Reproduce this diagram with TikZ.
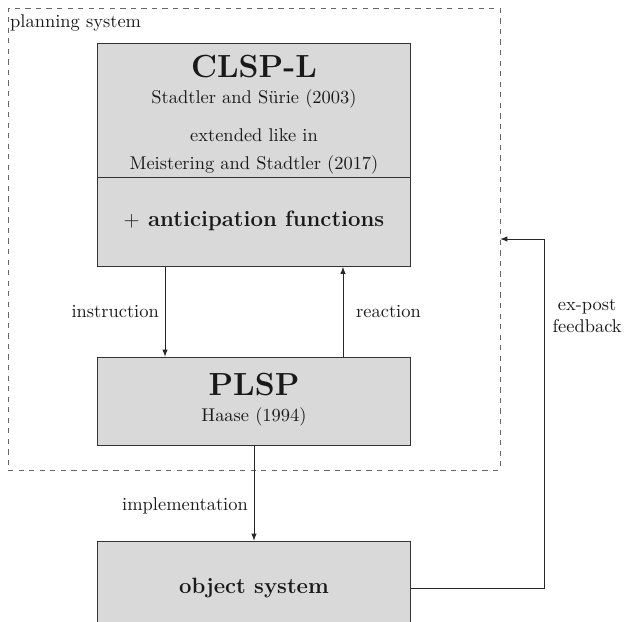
\documentclass[tikz,border=0pt]{standalone}
\usetikzlibrary{arrows, positioning}

\begin{document}
\begin{tikzpicture}[
        >=latex,
        x=0.02cm,
        y=0.02cm,
        yscale=-1,
        every node/.style={font=\fontsize{10.5}{12.6}\selectfont, text=black!90},
        box/.style={draw=black!80, fill=black!15, minimum width=6.26cm, inner sep=0pt},
        title/.style={font=\fontsize{18.2}{22}\selectfont\bfseries},
        subtitle/.style={font=\fontsize{12.6}{15}\selectfont\bfseries},
        frame/.style={draw=black!60, dashed, minimum width=9.84cm, minimum height=9.24cm, inner sep=0pt},
        flow/.style={->, draw=black!85}
    ]
    \useasboundingbox (0,0) rectangle (629,622);
    \clip (0,0) rectangle (629,622);

    \node[frame] (plansys) at (254,239) {};
    \node[anchor=west] (plansyslabel) at (4,23) {planning system};

    \node[box, minimum height=2.7cm] (clsp) at (254,110.5) {};
    \node[box, minimum height=1.78cm] (antic) at (254,222) {};
    \node[title] (clsptitle) at (254,67) {CLSP-L};
    \node (clspsrc) at (254,99) {Stadtler and Sürie (2003)};
    \node (clspext) at (254,135) {extended like in};
    \node (clspref) at (254,165) {Meistering and Stadtler (2017)};
    \node[subtitle] (antictext) at (254,221) {$+$ anticipation functions};

    \node[box, minimum height=1.76cm] (plsp) at (254,401) {};
    \node[title] (plsptitle) at (254,385) {PLSP};
    \node (plspsrc) at (254,417) {Haase (1994)};

    \node[box, minimum height=1.88cm, subtitle] (obj) at (254,588) {object system};

    \draw[flow] ([xshift=-1.78cm]antic.south) -- ([xshift=-1.78cm]plsp.north) node[midway, left]{instruction};
    \draw[flow] ([xshift=1.78cm]plsp.north) -- ([xshift=1.78cm]antic.south) node[midway, right, xshift=0.14cm]{reaction};
    \draw[flow] (plsp.south) -- (obj.north) node[pos=0.63, left]{implementation};
    \draw[flow] (obj.east) -| ([xshift=0.88cm]plansys.east) node[pos=0.89, right, align=center, xshift=0.04cm]{ex-post\\feedback} -- (plansys.east);
\end{tikzpicture}
\end{document}
